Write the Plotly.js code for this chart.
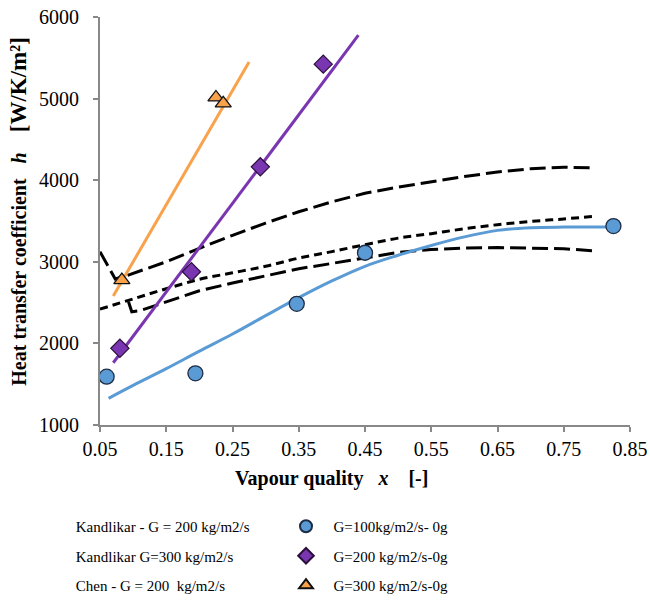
<!DOCTYPE html>
<html>
<head>
<meta charset="utf-8">
<script src="https://cdn.plot.ly/plotly-3.0.1.min.js"></script>
<style>html,body{margin:0;padding:0;background:#fff;}#chart{width:650px;height:600px;}</style>
</head>
<body>
<div id="chart"></div>
<script>
// Experimental points
const x100 = [0.060, 0.194, 0.347, 0.450, 0.825];
const h100 = [1592, 1633, 2485, 3111, 3438];
const x200 = [0.080, 0.188, 0.292, 0.387];
const h200 = [1940, 2878, 4164, 5422];
const x300 = [0.083, 0.225, 0.236];
const h300 = [2776, 5014, 4941];

// Trend lines
const xFit100 = [0.063, 0.1, 0.15, 0.2, 0.25, 0.3, 0.35, 0.4, 0.45, 0.5, 0.55, 0.6, 0.65, 0.7, 0.75, 0.8, 0.825];
const hFit100 = [1327, 1485, 1690, 1905, 2115, 2340, 2560, 2765, 2945, 3080, 3200, 3305, 3385, 3418, 3425, 3425, 3425];
const xFit200 = [0.070, 0.44];
const hFit200 = [1763, 5778];
const xFit300 = [0.070, 0.275];
const hFit300 = [2580, 5450];

// Correlations
const xKand300 = [0.05, 0.073, 0.09, 0.15, 0.2, 0.25, 0.3, 0.35, 0.4, 0.45, 0.5, 0.55, 0.6, 0.65, 0.7, 0.75, 0.795];
const hKand300 = [3123, 2790, 2830, 3000, 3165, 3325, 3475, 3613, 3735, 3840, 3915, 3983, 4045, 4100, 4140, 4160, 4150];
const xChen200 = [0.05, 0.1, 0.15, 0.2, 0.25, 0.3, 0.35, 0.4, 0.45, 0.5, 0.55, 0.6, 0.65, 0.7, 0.75, 0.8];
const hChen200 = [2420, 2545, 2670, 2785, 2865, 2945, 3045, 3125, 3210, 3290, 3345, 3405, 3455, 3495, 3525, 3560];
const xKand200 = [0.093, 0.098, 0.11, 0.15, 0.2, 0.25, 0.3, 0.35, 0.4, 0.45, 0.5, 0.55, 0.6, 0.65, 0.7, 0.75, 0.795];
const hKand200 = [2510, 2388, 2400, 2510, 2645, 2740, 2825, 2915, 2980, 3045, 3115, 3150, 3170, 3175, 3170, 3160, 3135];

const legendLeft = ['Kandlikar - G = 200 kg/m2/s', 'Kandlikar G=300 kg/m2/s', 'Chen - G = 200\u00a0\u00a0kg/m2/s'];
const legendRight = ['G=100kg/m2/s- 0g', 'G=200 kg/m2/s-0g', 'G=300 kg/m2/s-0g'];
const xTitle = '<b>Vapour quality\u00a0\u00a0\u00a0<i>x</i>\u00a0\u00a0\u00a0\u00a0[-]</b>';
const yTitle = '<b>Heat transfer coefficient\u00a0\u00a0\u00a0<i>h</i>\u00a0\u00a0\u00a0\u00a0<span style="font-size:23px">[W/K/m²]</span></b>';

const FONT = 'Liberation Serif';
const blue = '#5b9bd5', purple = '#7a36b1', orange = '#f9a24c';
const NB = '\u00a0\u00a0';

const traces = [
  {x: xKand300, y: hKand300, mode: 'lines', showlegend: false, hoverinfo: 'skip',
   line: {color: '#000', width: 3, dash: '16px,6px'}},
  {x: xChen200, y: hChen200, mode: 'lines', showlegend: false, hoverinfo: 'skip',
   line: {color: '#000', width: 3, dash: '8px,5px', shape: 'spline'}},
  {x: xKand200, y: hKand200, mode: 'lines', showlegend: false, hoverinfo: 'skip',
   line: {color: '#000', width: 3, dash: '16px,6px'}},
  {x: xFit100, y: hFit100, mode: 'lines', showlegend: false, line: {color: blue, width: 3, shape: 'spline'}},
  {x: xFit200, y: hFit200, mode: 'lines', showlegend: false, line: {color: purple, width: 3}},
  {x: xFit300, y: hFit300, mode: 'lines', showlegend: false, line: {color: orange, width: 3}},
  // Legend-only text entries (left column)
  {x: [null], y: [null], mode: 'lines', name: legendLeft[0], legend: 'legend', legendgroup: 'a',
   line: {color: 'rgba(0,0,0,0)', width: 0}},
  {x: [null], y: [null], mode: 'lines', name: legendLeft[1], legend: 'legend', legendgroup: 'b',
   line: {color: 'rgba(0,0,0,0)', width: 0}},
  {x: [null], y: [null], mode: 'lines', name: legendLeft[2], legend: 'legend', legendgroup: 'c',
   line: {color: 'rgba(0,0,0,0)', width: 0}},
  // Points
  {x: x100, y: h100, mode: 'markers', name: NB + legendRight[0], legend: 'legend2', legendgroup: 'd',
   marker: {symbol: 'circle', size: 15, color: blue, line: {color: '#1d2c44', width: 1.3}}},
  {x: x200, y: h200, mode: 'markers', name: NB + legendRight[1], legend: 'legend2', legendgroup: 'e',
   marker: {symbol: 'diamond', size: 14, color: purple, line: {color: '#2a0f3a', width: 1.2}}},
  {x: x300, y: h300, mode: 'markers', name: NB + legendRight[2], legend: 'legend2', legendgroup: 'f',
   marker: {symbol: 'triangle-up', size: 14, color: orange, line: {color: '#111', width: 1.3}}}
];

const layout = {
  width: 650, height: 600,
  paper_bgcolor: '#fff', plot_bgcolor: '#fff',
  margin: {l: 100, r: 20, t: 17, b: 175, autoexpand: false},
  font: {family: FONT, size: 16, color: '#000'},
  xaxis: {
    range: [0.05, 0.85], tick0: 0.05, dtick: 0.1, tickformat: '.2f', tickangle: 0, automargin: false,
    showgrid: false, zeroline: false,
    showline: true, linecolor: '#888', linewidth: 2,
    ticks: 'outside', ticklen: 5, tickwidth: 2, tickcolor: '#888',
    tickfont: {family: FONT, size: 20, color: '#000'}
  },
  yaxis: {
    range: [1000, 6000], dtick: 1000, automargin: false, ticksuffix: '\u00a0\u00a0',
    showgrid: false, zeroline: false,
    showline: true, linecolor: '#888', linewidth: 2,
    ticks: 'outside', ticklen: 5, tickwidth: 2, tickcolor: '#888',
    tickfont: {family: FONT, size: 20, color: '#000'}
  },
  annotations: [
    {text: xTitle, xref: 'paper', yref: 'paper', x: 0.436, y: -0.13, xanchor: 'center', yanchor: 'middle',
     showarrow: false, font: {family: FONT, size: 20, color: '#000'}},
    {text: yTitle, xref: 'paper', yref: 'paper', x: -0.153, y: 0.525, xanchor: 'center', yanchor: 'middle',
     textangle: -90, showarrow: false, font: {family: FONT, size: 20, color: '#000'}}
  ],
  legend: {
    xref: 'container', yref: 'container', x: 0.055, y: 0.150, xanchor: 'left', yanchor: 'top',
    orientation: 'v', tracegroupgap: 7, bgcolor: 'rgba(0,0,0,0)',
    font: {family: FONT, size: 15, color: '#000'}, itemclick: false
  },
  legend2: {
    xref: 'container', yref: 'container', x: 0.440, y: 0.150, xanchor: 'left', yanchor: 'top',
    orientation: 'v', tracegroupgap: 7, bgcolor: 'rgba(0,0,0,0)', itemsizing: 'constant',
    font: {family: FONT, size: 15, color: '#000'}, itemclick: false
  },
  showlegend: true
};

Plotly.newPlot('chart', traces, layout, {displayModeBar: false, staticPlot: true});
</script>
</body>
</html>
